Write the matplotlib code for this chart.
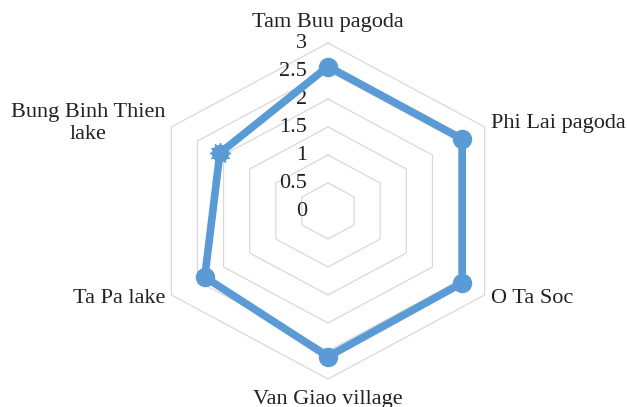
import matplotlib.pyplot as plt
import numpy as np

plt.rcParams['font.family'] = ['Liberation Serif', 'DejaVu Serif']

places = ['Tam Buu pagoda', 'Phi Lai pagoda', 'O Ta Soc', 'Van Giao village',
          'Ta Pa lake', 'Bung Binh Thien\nlake']
scores = [2.58, 2.57, 2.57, 2.6, 2.36, 2.07]
rings = [0.5, 1, 1.5, 2, 2.5, 3]
ring_labels = ['0', '0.5', '1', '1.5', '2', '2.5', '3']

blue = '#5B9BD5'
fs = 16

# angles: start at top, go clockwise
ang = np.deg2rad(90 - 60 * np.arange(len(places)))
ca = np.append(np.cos(ang), np.cos(ang[0]))
sa = np.append(np.sin(ang), np.sin(ang[0]))

fig = plt.figure(figsize=(6.27, 4.07), dpi=100)
ax = fig.add_axes([0, 0, 1, 1])
ax.set_xlim(-328 / 60.3, 299 / 60.3)
ax.set_ylim(-196 / 56, 211 / 56)
ax.axis('off')

# hexagonal grid
for r in rings:
    ax.plot(r * ca, r * sa, color='#d9d9d9', lw=0.9, zorder=1)

# tick labels along the vertical axis
for i, t in enumerate(ring_labels):
    ax.text(-0.35, i * 0.5, t, ha='right', va='center', fontsize=fs, color='#222222')

# data
v = np.append(scores, scores[0])
ax.plot(v * ca, v * sa, color=blue, lw=5.5, zorder=3, solid_joinstyle='miter')
ax.plot(v[:-2] * ca[:-2], v[:-2] * sa[:-2], 'o', color=blue, ms=13, zorder=4)
ax.plot(v[5] * ca[5], v[5] * sa[5], marker=(12, 1, 0), color=blue, ms=15, zorder=4)
ax.plot(v[5] * ca[5], v[5] * sa[5], 'o', color=blue, ms=11.5, zorder=4)

# category labels
for k, name in enumerate(places):
    c, s = ca[k], sa[k]
    if abs(c) < 0.01:
        ax.text(3.36 * c, 3.36 * s, name, ha='center', va='center', fontsize=fs, color='#222222')
    else:
        ax.text(3.12 * c, 3.12 * s, name, ha='left' if c > 0 else 'right', va='center',
                multialignment='center', fontsize=fs, color='#222222', linespacing=1.25)

fig.savefig('out.png', dpi=100)
